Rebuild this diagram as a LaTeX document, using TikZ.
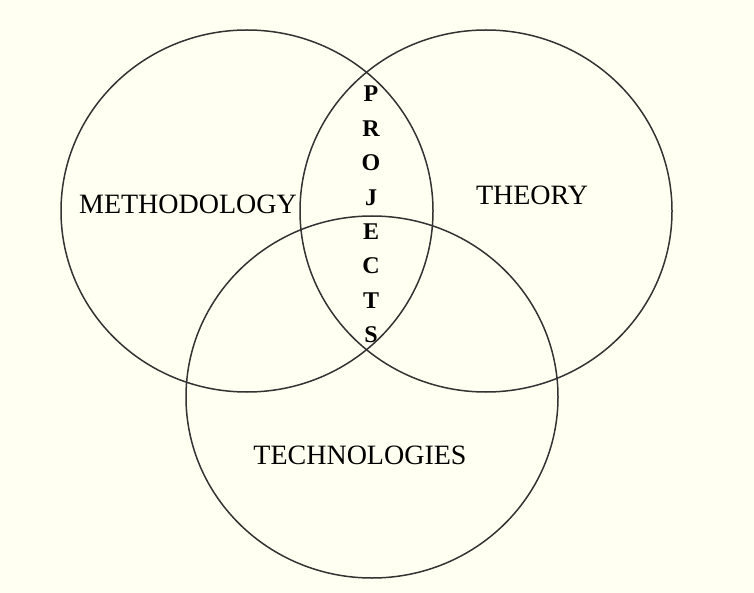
\documentclass[tikz,border=0pt]{standalone}
\usepackage{fontspec}
\setmainfont{Liberation Serif}
\begin{document}
\begin{tikzpicture}[x=1pt,y=-1pt,
  ring/.style={draw=black!80, line width=1.5pt},
  lbl/.style={anchor=base, inner sep=0pt, font=\fontsize{28}{30}\selectfont},
  vletter/.style={anchor=base, inner sep=0pt, font=\fontsize{24}{26}\selectfont\bfseries}]
\fill[fill={rgb,255:red,255;green,255;blue,242}] (0,0) rectangle (754,593);
\useasboundingbox (0,0) rectangle (754,593);
\coordinate (cm) at (247,211);
\coordinate (ct) at (486,211);
\coordinate (cb) at (372,397);
\draw[ring] (cm) ellipse [x radius=186pt, y radius=181pt];
\draw[ring] (ct) ellipse [x radius=186pt, y radius=181pt];
\draw[ring] (cb) ellipse [x radius=186pt, y radius=181pt];
\node[lbl] (meth) at (188,214) {METHODOLOGY};
\node[lbl] (theo) at (532,205) {THEORY};
\node[lbl] (tech) at (360,464) {TECHNOLOGIES};
\node[vletter] (p1) at (371,102) {P};
\node[vletter] (p2) at (371,136.4) {R};
\node[vletter] (p3) at (371,170.8) {O};
\node[vletter] (p4) at (371,205.2) {J};
\node[vletter] (p5) at (371,239.6) {E};
\node[vletter] (p6) at (371,274) {C};
\node[vletter] (p7) at (371,308.4) {T};
\node[vletter] (p8) at (371,342.8) {S};
\end{tikzpicture}
\end{document}
